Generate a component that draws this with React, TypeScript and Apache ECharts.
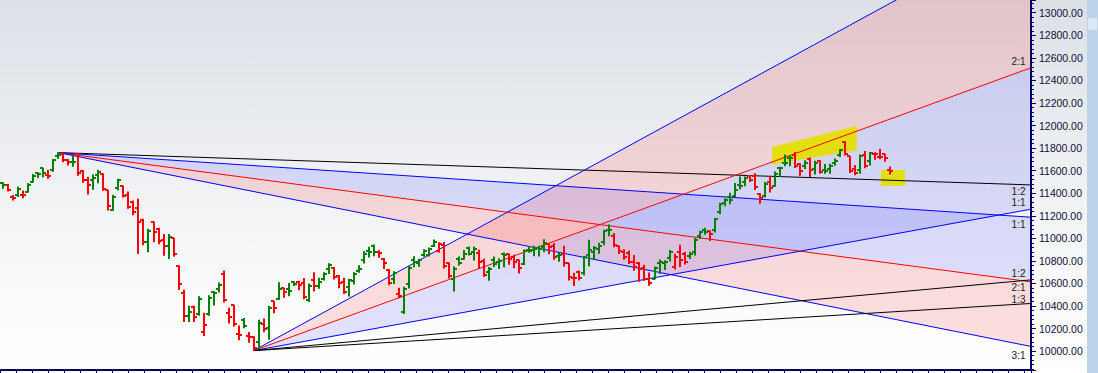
import React, { useEffect, useRef } from "react";
import * as echarts from "echarts";

// Daily bars (NIFTY-style index), Aug 2018 – May 2019
const dates: string[] = [
  "2018-08-09","2018-08-10","2018-08-13","2018-08-14","2018-08-16","2018-08-17","2018-08-20","2018-08-21","2018-08-23","2018-08-24","2018-08-27","2018-08-28","2018-08-29","2018-08-30","2018-08-31",
  "2018-09-03","2018-09-04","2018-09-05","2018-09-06","2018-09-07","2018-09-10","2018-09-11","2018-09-12","2018-09-14","2018-09-17","2018-09-18","2018-09-19","2018-09-21","2018-09-24","2018-09-25","2018-09-26","2018-09-27","2018-09-28",
  "2018-10-01","2018-10-03","2018-10-04","2018-10-05","2018-10-08","2018-10-09","2018-10-10","2018-10-11","2018-10-12","2018-10-15","2018-10-16","2018-10-17","2018-10-19","2018-10-22","2018-10-23","2018-10-24","2018-10-25","2018-10-26","2018-10-29","2018-10-30","2018-10-31",
  "2018-11-01","2018-11-02","2018-11-05","2018-11-06","2018-11-07","2018-11-09","2018-11-12","2018-11-13","2018-11-14","2018-11-15","2018-11-16","2018-11-19","2018-11-20","2018-11-21","2018-11-22","2018-11-26","2018-11-27","2018-11-28","2018-11-29","2018-11-30",
  "2018-12-03","2018-12-04","2018-12-05","2018-12-06","2018-12-07","2018-12-10","2018-12-11","2018-12-12","2018-12-13","2018-12-14","2018-12-17","2018-12-18","2018-12-19","2018-12-20","2018-12-21","2018-12-24","2018-12-26","2018-12-27","2018-12-28","2018-12-31",
  "2019-01-01","2019-01-02","2019-01-03","2019-01-04","2019-01-07","2019-01-08","2019-01-09","2019-01-10","2019-01-11","2019-01-14","2019-01-15","2019-01-16","2019-01-17","2019-01-18","2019-01-21","2019-01-22","2019-01-23","2019-01-24","2019-01-25","2019-01-28","2019-01-29","2019-01-30","2019-01-31",
  "2019-02-01","2019-02-04","2019-02-05","2019-02-06","2019-02-07","2019-02-08","2019-02-11","2019-02-12","2019-02-13","2019-02-14","2019-02-15","2019-02-18","2019-02-19","2019-02-20","2019-02-21","2019-02-22","2019-02-25","2019-02-26","2019-02-27","2019-02-28",
  "2019-03-01","2019-03-05","2019-03-06","2019-03-07","2019-03-08","2019-03-11","2019-03-12","2019-03-13","2019-03-14","2019-03-15","2019-03-18","2019-03-19","2019-03-20","2019-03-22","2019-03-25","2019-03-26","2019-03-27","2019-03-28","2019-03-29",
  "2019-04-01","2019-04-02","2019-04-03","2019-04-04","2019-04-05","2019-04-08","2019-04-09","2019-04-10","2019-04-11","2019-04-12","2019-04-15","2019-04-16","2019-04-18","2019-04-22","2019-04-23","2019-04-24","2019-04-25","2019-04-26","2019-04-30",
  "2019-05-02","2019-05-03","2019-05-06",
];

const opens = [
  11493,11473,11370,11381,11380,11412,11502,11576,11620,11566,11605,11731,11745,11694,11675,
  11751,11598,11514,11514,11558,11570,11426,11253,11443,11464,11381,11326,11271,11164,10969,11145,11080,10985,
  10930,11000,10754,10514,10310,10390,10331,10169,10331,10524,10550,10688,10339,10405,10152,10278,10135,10122,10079,10239,10209,
  10441,10462,10558,10553,10614,10614,10607,10451,10634,10580,10644,10731,10740,10670,10612,10568,10621,10708,10808,10892,
  10930,10877,10821,10718,10644,10508,10350,10591,10810,10784,10853,10856,10931,10885,10944,10780,10636,10817,10820,10913,
  10881,10868,10796,10699,10804,10786,10863,10859,10834,10807,10777,10900,10899,10914,10920,10949,10931,10844,10859,10780,10653,10702,10690,
  10851,10876,10908,10965,11070,11024,10931,10879,10870,10789,10780,10741,10641,10643,10784,10782,10826,10749,10881,10865,
  10842,10880,11025,11078,11065,11077,11232,11311,11364,11376,11473,11500,11553,11550,11395,11375,11503,11463,11625,
  11665,11711,11735,11660,11638,11705,11612,11687,11605,11612,11668,11736,11856,11727,11612,11602,11735,11683,11750,
  11725,11744,11605,
];
const highs = [
  11493,11478,11381,11452,11420,11486,11565,11582,11620,11604,11700,11760,11753,11699,11727,
  11752,11602,11542,11562,11604,11573,11427,11380,11523,11464,11411,11332,11346,11170,11080,11145,11089,11034,
  11035,11000,10754,10540,10398,10398,10482,10335,10492,10526,10604,10710,10380,10408,10222,10290,10166,10128,10275,10285,10396,
  10441,10606,10558,10600,10616,10619,10645,10596,10695,10646,10695,10774,10740,10671,10646,10637,10695,10757,10883,10922,
  10941,10890,10821,10722,10704,10558,10567,10753,10838,10815,10900,10915,10985,10962,10963,10782,10747,10834,10893,10923,
  10923,10895,10815,10741,10835,10818,10870,10859,10850,10808,10896,10928,10930,10930,10987,10949,10955,10866,10931,10780,10690,10710,10838,
  10983,10927,10956,11072,11119,11042,10932,10900,10889,10849,10785,10762,10692,10745,10808,10801,10892,10860,10939,10876,
  10877,10997,11062,11089,11066,11176,11312,11352,11399,11487,11544,11543,11556,11572,11395,11496,11546,11588,11630,
  11738,11727,11761,11662,11689,11713,11683,11688,11655,11657,11704,11788,11856,11727,11645,11740,11770,11762,11760,
  11789,11746,11632,
];
const lows = [
  11445,11420,11340,11370,11360,11410,11499,11539,11546,11532,11595,11710,11679,11651,11640,
  11560,11497,11394,11436,11494,11427,11251,11250,11430,11366,11268,11210,10866,10943,10882,10969,10953,10850,
  10821,10843,10547,10262,10262,10263,10318,10138,10318,10410,10525,10436,10249,10224,10102,10207,10080,10005,10021,10172,10105,
  10341,10457,10477,10491,10582,10544,10464,10440,10533,10557,10631,10688,10640,10562,10512,10489,10596,10699,10782,10835,
  10845,10833,10733,10588,10599,10474,10334,10560,10749,10752,10844,10844,10928,10880,10738,10649,10534,10764,10817,10853,
  10808,10735,10662,10628,10750,10733,10749,10770,10739,10692,10768,10876,10845,10844,10882,10864,10815,10798,10756,10631,10583,10630,10676,
  10757,10814,10868,10943,11023,10925,10865,10814,10778,10718,10620,10628,10585,10641,10688,10724,10800,10729,10751,10772,
  10821,10852,10998,11037,10980,11057,11218,11289,11306,11370,11437,11467,11503,11434,11311,11366,11412,11462,11549,
  11644,11644,11629,11559,11620,11549,11570,11577,11578,11578,11648,11726,11738,11583,11564,11578,11627,11651,11702,
  11705,11683,11571,
];
const closes = [
  11471,11429,11356,11435,11385,11470,11551,11570,11582,11557,11691,11738,11692,11676,11680,
  11582,11520,11476,11536,11589,11438,11287,11369,11515,11377,11278,11234,11143,10967,11067,11053,10977,10930,
  11008,10858,10599,10316,10348,10301,10460,10234,10472,10512,10584,10453,10303,10245,10146,10224,10124,10030,10251,10199,10387,
  10380,10553,10524,10530,10598,10585,10482,10582,10576,10616,10682,10763,10656,10600,10526,10628,10685,10728,10858,10876,
  10883,10869,10782,10601,10693,10488,10549,10738,10791,10805,10888,10908,10967,10951,10754,10663,10729,10779,10859,10862,
  10910,10792,10672,10727,10772,10802,10855,10821,10794,10737,10887,10890,10905,10907,10961,10923,10831,10849,10780,10661,10652,10651,10831,
  10894,10912,10934,11063,11070,10944,10888,10831,10793,10746,10724,10640,10605,10736,10789,10792,10880,10835,10807,10793,
  10864,10987,11054,11058,11035,11168,11301,11342,11343,11427,11462,11532,11521,11456,11355,11483,11445,11570,11624,
  11669,11713,11644,11598,11666,11605,11671,11584,11597,11643,11690,11787,11752,11594,11575,11726,11641,11754,11748,
  11724,11712,11598,
];
const priorClose = 11450; // close before the first bar (sets first bar's colour)

// Gann fans: origin bar index, price units per bar for the 1:1 angle, angle ratios and labels
const fanAIndex = 11; // swing high
const fanBIndex = 50; // swing low
const fanAUnit = -2.95;
const fanBUnit = 8.08;
const fanARatios = [0.5, 1, 2, 3];
const fanALabels = ["1:2", "1:1", "2:1", "3:1"];
const fanBRatios = [3, 2, 1, 0.5, 1 / 3];
const fanBLabels = ["", "2:1", "1:1", "1:2", "1:3"];
const fanAFills: [number, number, string][] = [[1, 2, "blue"], [2, 3, "red"]];
const fanBFills: [number, number, string][] = [[3, 2, "red"], [2, 1, "blue"]];

// Yellow highlight annotations, [bar index, price]
const highlights: [number, number][][] = [
  [[153.45, 11810], [170.4, 11996], [170.4, 11780], [153.45, 11655]],
  [[175.2, 11606], [180.0, 11606], [180.0, 11465], [175.2, 11465]],
];

// ---- layout / style constants ----
const X_MIN = -0.64;
const X_MAX = 205.15;
const X_FAR = 320;
const Y_MIN = 9833;
const Y_MAX = 13113;
const LABEL_DY_A = [6.7, 7, 6, 9];
const LABEL_DY_B = [0, -6, -6.2, -6.6, -4];
const NAVY = "#000066";
const GREEN = "#008000";
const RED = "#ff0000";
const FILL = { blue: "rgba(0,0,255,0.11)", red: "rgba(255,0,0,0.12)" } as Record<string, string>;
const lineColor = (r: number) => (r === 2 ? "#ff0000" : r >= 1 ? "#0000ff" : "#000000");

function buildOption() {
  const fans = [
    { origin: [fanAIndex, highs[fanAIndex]], unit: fanAUnit, ratios: fanARatios, labels: fanALabels, dy: LABEL_DY_A, fills: fanAFills },
    { origin: [fanBIndex, lows[fanBIndex]], unit: fanBUnit, ratios: fanBRatios, labels: fanBLabels, dy: LABEL_DY_B, fills: fanBFills },
  ];
  const at = (f: any, r: number, x: number) => f.origin[1] + f.unit * r * (x - f.origin[0]);

  const lineSeries: any[] = [];
  const labelItems: any[] = [];
  const fillItems: any[] = [];
  fans.forEach((f) => {
    f.ratios.forEach((r, i) => {
      lineSeries.push({
        type: "line",
        xAxisIndex: 0,
        yAxisIndex: 0,
        data: [f.origin, [X_MAX, at(f, r, X_MAX)]],
        symbol: "none",
        showSymbol: false,
        clip: true,
        silent: true,
        lineStyle: { color: lineColor(r), width: 1 },
        z: 3,
      });
      if (f.labels[i]) labelItems.push({ value: [X_MAX, at(f, r, X_MAX)], text: f.labels[i], dy: f.dy[i] });
    });
    f.fills.forEach(([r1, r2, c]) =>
      fillItems.push({ points: [f.origin, [X_FAR, at(f, r1, X_FAR)], [X_FAR, at(f, r2, X_FAR)]], color: FILL[c] })
    );
  });

  const barData = opens.map((o, i) => {
    const prev = i === 0 ? priorClose : closes[i - 1];
    return [i, o, highs[i], lows[i], closes[i], closes[i] >= prev ? 1 : 0];
  });

  return {
    animation: false,
    grid: { left: 0, right: 67, top: 0, height: 370 },
    xAxis: [
      { type: "value", min: X_MIN, max: X_MAX, show: false, axisLine: { onZero: false } },
      {
        type: "value",
        min: 0,
        max: 1031,
        interval: 16,
        position: "bottom",
        axisLine: { show: true, onZero: false, lineStyle: { color: NAVY, width: 2 } },
        axisTick: { show: true, length: 3, lineStyle: { color: NAVY } },
        axisLabel: { show: false },
        splitLine: { show: false },
      },
    ],
    yAxis: {
      type: "value",
      position: "right",
      min: Y_MIN,
      max: Y_MAX,
      splitNumber: 16,
      axisLine: { show: true, onZero: false, lineStyle: { color: NAVY, width: 2 } },
      axisTick: { show: true, length: 5, lineStyle: { color: NAVY } },
      minorTick: { show: true, splitNumber: 5, length: 3, lineStyle: { color: NAVY } },
      axisLabel: {
        formatter: (v: number) => v.toFixed(2),
        color: "#101038",
        fontSize: 10.5,
        fontFamily: "Liberation Sans",
        margin: 8,
        showMinLabel: false,
        showMaxLabel: false,
      },
      splitLine: { show: false },
    },
    graphic: [
      { type: "rect", shape: { x: 1087, y: 0, width: 11, height: 373 }, style: { fill: "#bdd3ea" }, silent: true, z: 10 },
      { type: "rect", shape: { x: 1088, y: 18, width: 9, height: 12 }, style: { fill: "#dce8f5" }, silent: true, z: 11 },
    ],
    series: [
      {
        type: "custom",
        clip: true,
        silent: true,
        z: 1,
        data: fillItems.map((f) => f.points[0]),
        renderItem: (params: any, api: any) => {
          const f = fillItems[params.dataIndex];
          return { type: "polygon", shape: { points: f.points.map((p: number[]) => api.coord(p)) }, style: { fill: f.color } };
        },
      },
      {
        type: "custom",
        clip: true,
        silent: true,
        z: 2,
        data: highlights.map((h) => h[0]),
        renderItem: (params: any, api: any) => {
          const h = highlights[params.dataIndex];
          return { type: "polygon", shape: { points: h.map((p) => api.coord(p)) }, style: { fill: "rgba(228,222,0,0.92)" } };
        },
      },
      ...lineSeries,
      {
        type: "custom",
        clip: true,
        silent: true,
        z: 4,
        data: barData,
        encode: { x: 0, y: [1, 2, 3, 4] },
        renderItem: (params: any, api: any) => {
          const x = api.value(0);
          const o = api.coord([x, api.value(1)]);
          const h = api.coord([x, api.value(2)]);
          const l = api.coord([x, api.value(3)]);
          const c = api.coord([x, api.value(4)]);
          const color = api.value(5) > 0 ? GREEN : RED;
          const cx = Math.round(h[0]);
          const yo = Math.round(o[1]);
          const yc = Math.round(c[1]);
          const style = { stroke: color, lineWidth: 2 };
          return {
            type: "group",
            children: [
              { type: "line", shape: { x1: cx, y1: h[1] - 0.5, x2: cx, y2: l[1] + 0.5 }, style },
              { type: "line", shape: { x1: cx - 3, y1: yo, x2: cx, y2: yo }, style },
              { type: "line", shape: { x1: cx, y1: yc, x2: cx + 3, y2: yc }, style },
            ],
          };
        },
      },
      {
        type: "custom",
        clip: false,
        silent: true,
        z: 5,
        data: labelItems.map((d) => d.value),
        renderItem: (params: any, api: any) => {
          const d = labelItems[params.dataIndex];
          const p = api.coord([api.value(0), api.value(1)]);
          return {
            type: "text",
            x: p[0] - 5.5,
            y: p[1] + d.dy,
            style: {
              text: d.text,
              fill: "#202020",
              font: '10px "Liberation Sans"',
              align: "right",
              verticalAlign: "middle",
            },
          };
        },
      },
    ],
  };
}

export default function App() {
  const ref = useRef<HTMLDivElement>(null);
  useEffect(() => {
    const chart = echarts.init(ref.current!, null, { renderer: "svg" });
    chart.setOption(buildOption() as any);
    return () => chart.dispose();
  }, []);
  return (
    <div
      ref={ref}
      data-dates={dates.length}
      style={{
        position: "fixed",
        left: 0,
        top: 0,
        width: 1098,
        height: 373,
        background: "linear-gradient(to bottom, #dce0e7 0%, #eef0f3 45%, #fbfbfc 80%, #ffffff 100%)",
      }}
    />
  );
}
